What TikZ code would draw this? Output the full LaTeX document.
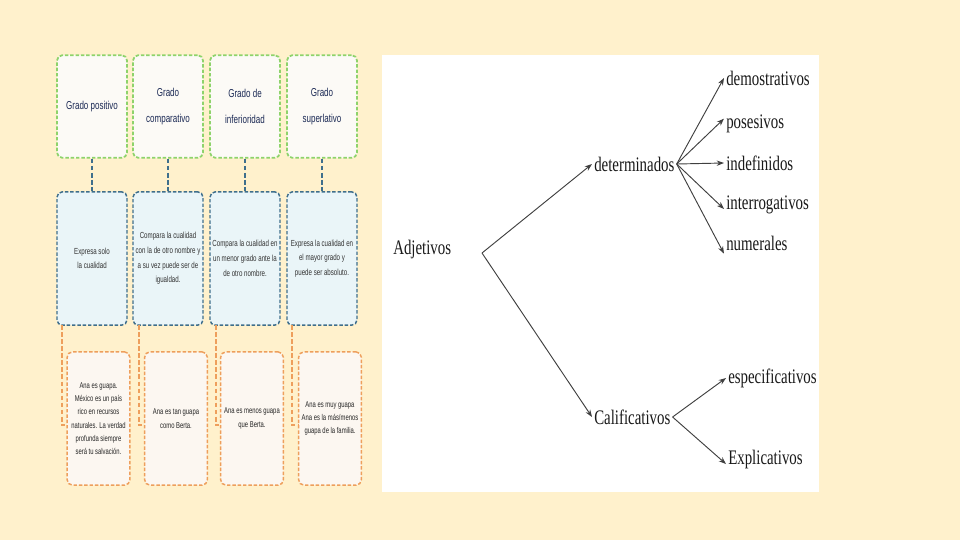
\documentclass[tikz,border=0pt]{standalone}
\usepackage{fontspec}
\usetikzlibrary{arrows.meta}
\newfontfamily\cnsans[FakeStretch=0.7]{Liberation Sans}
\newfontfamily\cnserif[FakeStretch=0.72]{Liberation Serif}
\definecolor{bgcream}{HTML}{FFF1CC}
\definecolor{grgreen}{HTML}{8ED36B}
\definecolor{tealb}{HTML}{3F6F8C}
\definecolor{orng}{HTML}{EE9F5C}
\definecolor{bluefill}{HTML}{EAF5F8}
\definecolor{topfill}{HTML}{FCFAF6}
\definecolor{botfill}{HTML}{FCF7F1}
\definecolor{navy}{HTML}{1C2A55}
\tikzset{
  gradobox/.style={draw=grgreen, fill=topfill, line width=1.3pt, dash pattern=on 2.6pt off 1.4pt,
    rounded corners=4pt, minimum width=52.5pt, minimum height=77pt, align=center,
    text=navy, font=\cnsans\fontsize{8.6}{19}\selectfont, inner sep=1pt},
  descbox/.style={draw=tealb, fill=bluefill, line width=1.1pt, dash pattern=on 2.6pt off 1.4pt,
    rounded corners=4pt, minimum width=52.5pt, minimum height=100pt, align=center,
    text=black!80, font=\cnsans\fontsize{6.6}{11}\selectfont, inner sep=1pt},
  ejbox/.style={draw=orng, fill=botfill, line width=1.1pt, dash pattern=on 2.6pt off 1.4pt,
    rounded corners=4pt, minimum width=47pt, minimum height=100pt, align=center,
    text=black!85, font=\cnsans\fontsize{6.3}{10}\selectfont, inner sep=1pt},
  tealline/.style={draw=tealb, line width=1.7pt, dash pattern=on 3.5pt off 1.8pt},
  orline/.style={draw=orng, line width=1.2pt, dash pattern=on 3.5pt off 1.8pt},
  word/.style={font=\cnserif\fontsize{15.5}{18}\selectfont, text=black!90, inner sep=1.5pt, anchor=west},
  arr/.style={draw=black!75, line width=0.7pt, -{Stealth[length=5.5pt,width=4pt]}},
}
\begin{document}
\begin{tikzpicture}[x=0.75pt,y=-0.75pt]
\fill[bgcream] (0,0) rectangle (960,540);
\useasboundingbox (0,0) rectangle (960,540);
% ---------- left panel ----------
\node[gradobox] (g1) at (92,106.5) {Grado positivo};
\node[gradobox] (g2) at (168,106.5) {Grado\\comparativo};
\node[gradobox] (g3) at (245,106.5) {Grado de\\inferioridad};
\node[gradobox] (g4) at (322,106.5) {Grado\\superlativo};

\node[descbox] (d1) at (92,258.5) {Expresa solo\\la cualidad};
\node[descbox] (d2) at (168,258.5) {Compara la cualidad\\con la de otro nombre y\\a su vez puede ser de\\igualdad.};
\node[descbox] (d3) at (245,258.5) {Compara la cualidad en\\un menor grado ante la\\de otro nombre.};
\node[descbox] (d4) at (322,258.5) {Expresa la cualidad en\\el mayor grado y\\puede ser absoluto.};

\node[ejbox] (e1) at (98.5,418.5) {Ana es guapa.\\México es un país\\rico en recursos\\naturales. La verdad\\profunda siempre\\será tu salvación.};
\node[ejbox] (e2) at (176,418.5) {Ana es tan guapa\\como Berta.};
\node[ejbox] (e3) at (252,418.5) {Ana es menos guapa\\que Berta.};
\node[ejbox] (e4) at (330,418.5) {Ana es muy guapa\\Ana es la más/menos\\guapa de la familia.};

\foreach \i in {1,2,3,4}{
  \draw[tealline] (g\i.south) -- (d\i.north);
}
\coordinate (o1) at (62,325);
\coordinate (o2) at (139,325);
\coordinate (o3) at (216,325);
\coordinate (o4) at (292,325);
\foreach \i in {1,2,3,4}{
  \draw[orline] (o\i) |- ([yshift=-5]e\i.west);
}
% ---------- right panel ----------
\fill[white] (382,55) rectangle (819,492);
\node[word] (adj) at (391,250) {Adjetivos};
\coordinate (P) at (482,253);
\node[word] (det) at (592,164) {determinados};
\node[word] (cal) at (592,417) {Calificativos};
\node[word] (dem) at (724,78) {demostrativos};
\node[word] (pos) at (724,124) {posesivos};
\node[word] (ind) at (724,163) {indefinidos};
\node[word] (inr) at (724,205) {interrogativos};
\node[word] (num) at (724,243) {numerales};
\node[word] (esp) at (726,378) {especificativos};
\node[word] (exp) at (726,460) {Explicativos};

\draw[arr] (P) -- (det.west);
\draw[arr] (P) -- (cal.west);
\draw[arr] (det.east) -- (dem.west);
\draw[arr] (det.east) -- ([yshift=4]pos.west);
\draw[arr] (det.east) -- (ind.west);
\draw[arr] (det.east) -- ([yshift=-3]inr.west);
\draw[arr] (det.east) -- ([yshift=-8]num.west);
\draw[arr] (cal.east) -- (esp.west);
\draw[arr] (cal.east) -- ([yshift=-3]exp.west);
\end{tikzpicture}
\end{document}
